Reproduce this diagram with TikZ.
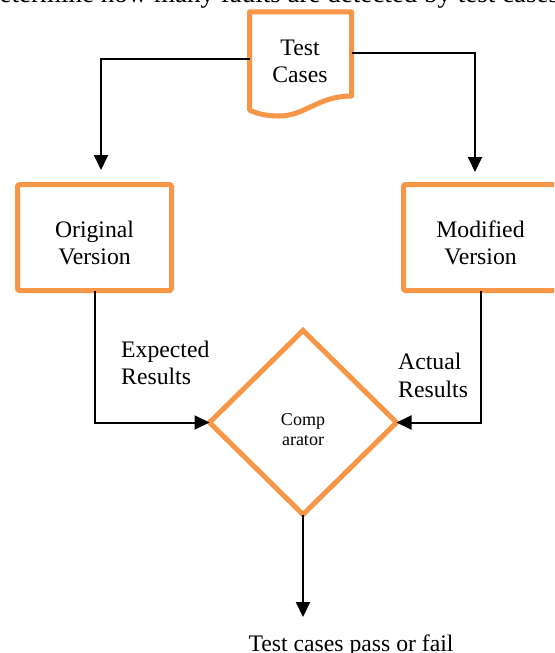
\documentclass[tikz,border=0pt]{standalone}
\usepackage{fontspec}
\setmainfont{Liberation Serif}
\usetikzlibrary{arrows.meta,shapes.geometric}
\definecolor{boxorange}{HTML}{F79646}
\newcommand\dgfont{\fontsize{23.7}{28}\selectfont}
\newcommand\dgsmall{\fontsize{18}{22}\selectfont}
\newcommand\dgtop{\fontsize{27}{32}\selectfont}
\tikzset{
  orangebox/.style={draw=boxorange, line width=5pt, line join=round, rounded corners=1.5pt, inner sep=0pt, outer sep=0pt},
  conn/.style={line width=2pt, -{Triangle[length=15pt,width=14pt]}},
  txt/.style={font=\dgfont, inner sep=0pt, anchor=base},
  txtl/.style={font=\dgfont, inner sep=0pt, anchor=base west},
  smalltxt/.style={font=\dgsmall, inner sep=0pt, anchor=base}
}
\begin{document}
\begin{tikzpicture}[x=1pt,y=-1pt]
\useasboundingbox (0,0) rectangle (554,653);
\clip (0,0) rectangle (554,653);
% cropped caption line at top
\node[font=\dgtop, inner sep=0pt, anchor=base west] (caption) at (-14,2) {determine how many faults are detected by test cases};
% Test Cases document
\draw[draw=boxorange, line width=5pt, line join=round]
  (249.5,110) -- (249.5,11.8) -- (351.5,11.8) -- (351.5,96)
  .. controls (318,96) and (305,116) .. (279,116)
  .. controls (265,116) and (255,113) .. (249.5,110) -- cycle;
\node[minimum width=102pt, minimum height=90pt, inner sep=0pt, outer sep=0pt] (tc) at (300.5,59) {};
\node[txt] (tc1) at (300,55) {Test};
\node[txt] (tc2) at (300,82) {Cases};
% boxes
\node[orangebox, minimum width=154pt, minimum height=106pt] (orig) at (94.5,237.5) {};
\node[txt] (orig1) at (94.5,237) {Original};
\node[txt] (orig2) at (94.5,264) {Version};
\node[orangebox, minimum width=155pt, minimum height=106pt] (mod) at (481,237.5) {};
\node[txt] (mod1) at (480.5,237) {Modified};
\node[txt] (mod2) at (480.5,264) {Version};
% comparator
\node[diamond, draw=boxorange, line width=5pt, minimum width=187pt, minimum height=184pt, inner sep=0pt, outer sep=0pt] (comp) at (303,422.5) {};
\node[smalltxt] (comp1) at (303,425) {Comp};
\node[smalltxt] (comp2) at (303,445) {arator};
% labels
\node[txtl] (exp1) at (121,357) {Expected};
\node[txtl] (exp2) at (121,384) {Results};
\node[txtl] (act1) at (398,369) {Actual};
\node[txtl] (act2) at (398,397) {Results};
\node[txt] (out) at (351,651) {Test cases pass or fail};
% connectors
\coordinate (origIn) at (101,170);
\coordinate (modIn) at (475,172);
\coordinate (outEnd) at (303,617);
\draw[conn] (tc.west) -| (origIn);
\draw[conn] ([yshift=6pt]tc.east) -| (modIn);
\draw[conn] (orig.south) |- (comp.west);
\draw[conn] (mod.south) |- (comp.east);
\draw[conn] (comp.south) -- (outEnd);
\end{tikzpicture}
\end{document}
